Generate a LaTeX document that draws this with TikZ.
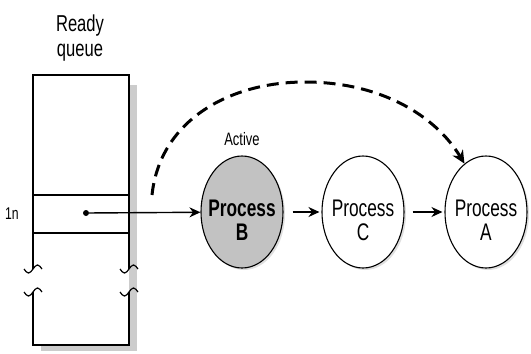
\documentclass[tikz,border=0pt]{standalone}
\usepackage{fontspec}
\setmainfont[FakeStretch=0.72]{Liberation Sans}
\usetikzlibrary{arrows.meta,shapes.geometric,shadows}

\definecolor{activegray}{rgb}{0.76,0.76,0.76}
\definecolor{shadowgray}{rgb}{0.8,0.8,0.8}

\newcommand{\qbreak}[2]{\draw[line width=1.2pt] (#1-9,#2) sin (#1-4.5,#2+4) cos (#1,#2) sin (#1+4.5,#2-4) cos (#1+9,#2);}
\newcommand{\procfont}{\fontsize{24}{24}\selectfont}

\begin{document}
\begin{tikzpicture}[x=1pt,y=-1pt,
    proc/.style={ellipse, draw, line width=1.1pt, fill=white, inner sep=0pt,
        minimum width=82pt, minimum height=112pt,
        drop shadow={shadow xshift=2pt, shadow yshift=-2pt, opacity=0.25}},
    proctext/.style={align=center, font=\procfont, yshift=-8pt},
    flow/.style={-{Stealth[length=11pt,width=10pt]}, line width=1.4pt}]
            \useasboundingbox (0,0) rectangle (531,354);

            \fill[shadowgray] (41,85) rectangle (137,351);
            \fill[white] (33,75) rectangle (129,345);
            \draw[line width=1.2pt] (33,269) -- (33,75) -- (129,75) -- (129,269);
            \draw[line width=1.2pt] (33,292) -- (33,345) -- (129,345) -- (129,292);
            \draw[line width=1.2pt] (33,195) -- (129,195);
            \draw[line width=1.2pt] (33,233) -- (129,233);
            \qbreak{33}{269}
            \qbreak{33}{292}
            \qbreak{129}{269}
            \qbreak{129}{292}

            \node (ready) at (80,38.5) [align=center, font=\fontsize{23}{25}\selectfont] {Ready\\queue};
            \node (slot) at (12,214) [font=\fontsize{17}{18}\selectfont] {1n};
            \node (dot) at (86,213) [circle, fill, inner sep=0pt, minimum size=6pt] {};
            \coordinate (dashstart) at (152,195);

            \node (active) at (242,139) [font=\fontsize{18}{20}\selectfont] {Active};
            \node (B) at (242,212) [proc, fill=activegray,
                label={[name=Btext, proctext, font=\procfont\bfseries]center:Process\\B}] {};
            \node (C) at (363,212) [proc,
                label={[name=Ctext, proctext]center:Process\\C}] {};
            \node (A) at (486,212) [proc,
                label={[name=Atext, proctext]center:Process\\A}] {};

            \draw[flow] (dot) -- (B);
            \draw[flow, shorten <=9pt, shorten >=2pt] (B) -- (C);
            \draw[flow, shorten <=8pt, shorten >=2pt] (C) -- (A);
            \draw[line width=3pt, dash pattern=on 12pt off 7pt, -{Stealth[length=13pt,width=12pt]}]
                (dashstart) .. controls (160,120) and (230,82) .. (305,82)
                .. controls (380,82) and (435,115) .. (A.114);
        \end{tikzpicture}
\end{document}
